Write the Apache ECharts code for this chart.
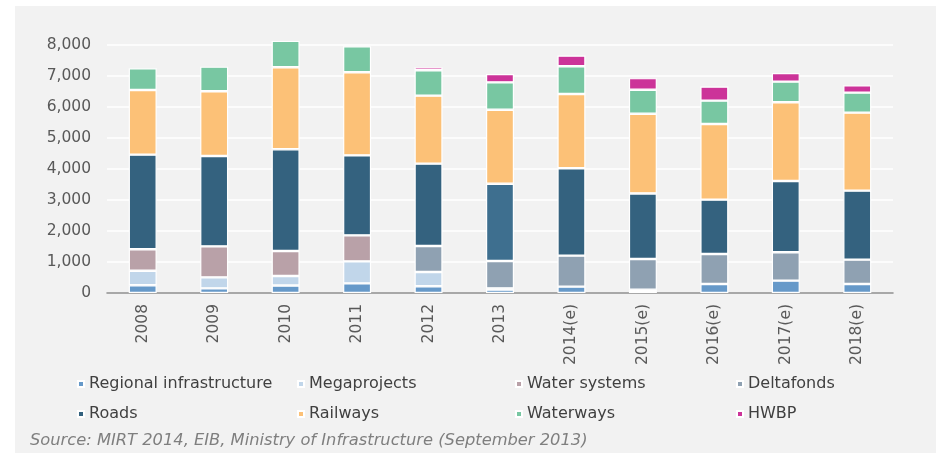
<!DOCTYPE html>
<html>
<head>
<meta charset="utf-8">
<script src="https://cdn.jsdelivr.net/npm/echarts@6/dist/echarts.min.js"></script>
<style>
html,body{margin:0;padding:0;background:#ffffff;}
#panel{position:absolute;left:15px;top:6px;width:921px;height:447px;background:#f2f2f2;}
#chart{position:absolute;left:0;top:0;width:936px;height:453px;}
</style>
</head>
<body>
<div id="panel"></div>
<div id="chart"></div>
<script>
const categories = ['2008','2009','2010','2011','2012','2013','2014(e)','2015(e)','2016(e)','2017(e)','2018(e)'];
const yTicks = [0,1000,2000,3000,4000,5000,6000,7000,8000];
const regional   = [250, 150, 240, 310, 216, 110, 206, 65, 290, 400, 290];
const megaprojects = [470, 355, 310, 710, 462, 40, null, 40, null, null, null];
const waterSystems = [690, 1000, 807, 840, null, null, null, null, null, null, null];
const deltafonds = [null, null, null, null, 838, 880, 1000, 990, 968, 913, 787];
const roads      = [3055, 2914, 3281, 2581, 2658, 2494, 2817, 2116, 1755, 2300, 2226];
const railways   = [2085, 2087, 2645, 2678, 2193, 2387, 2397, 2571, 2439, 2539, 2517];
const waterways  = [700, 796, 849, 839, 817, 884, 893, 775, 755, 668, 645];
const hwbp       = [null, null, null, null, 100, 268, 345, 374, 451, 278, 235];

const seriesDefs = [
  {name:'Regional infrastructure', data: regional, color:'#6699c9'},
  {name:'Megaprojects', data: megaprojects, color:'#c1d6ea'},
  {name:'Water systems', data: waterSystems, color:'#b9a1a8'},
  {name:'Deltafonds', data: deltafonds, color:'#8fa1b2'},
  {name:'Roads', data: roads, color:'#34627f'},
  {name:'Railways', data: railways, color:'#fcc177'},
  {name:'Waterways', data: waterways, color:'#78c7a2'},
  {name:'HWBP', data: hwbp, color:'#cc3399'}
];

const font = 'DejaVu Sans, Verdana, sans-serif';
const chart = echarts.init(document.getElementById('chart'), null, {renderer:'canvas'});

const series = seriesDefs.map(s => ({
  name: s.name,
  type: 'bar',
  stack: 'total',
  barWidth: 28,
  clip: false,
  itemStyle: {color: s.color, borderColor: '#ffffff', borderWidth: 1.2},
  emphasis: {disabled: true},
  data: s.data.map((v, i) => {
    if (s.name === 'Roads' && categories[i] === '2013') {
      return {value: v, itemStyle: {color: '#3e6f8f'}};
    }
    return v;
  })
}));

const legendCol = (names, left) => ({
  orient: 'vertical',
  left: left,
  top: 376,
  padding: 0,
  itemWidth: 6,
  itemHeight: 6,
  itemGap: 14,
  icon: 'rect',
  selectedMode: false,
  textStyle: {fontFamily: font, fontSize: 16, color: '#404040', lineHeight: 16},
  data: names
});

chart.setOption({
  backgroundColor: 'transparent',
  animation: false,
  title: {
    text: 'Source: MIRT 2014, EIB, Ministry of Infrastructure (September 2013)',
    left: 30,
    top: 433,
    padding: 0,
    textStyle: {fontFamily: font, fontSize: 16.3, fontStyle: 'italic', fontWeight: 'normal', color: '#7f7f7f'}
  },
  legend: [
    legendCol(['Regional infrastructure','Roads'], 77),
    legendCol(['Megaprojects','Railways'], 297),
    legendCol(['Water systems','Waterways'], 515),
    legendCol(['Deltafonds','HWBP'], 736)
  ],
  grid: {left: 107, right: 43, top: 45, bottom: 160, containLabel: false},
  xAxis: {
    type: 'category',
    data: categories,
    axisLine: {show: true, lineStyle: {color: '#8c8c8c', width: 1.5}},
    axisTick: {show: false},
    axisLabel: {rotate: 90, margin: 11, fontFamily: font, fontSize: 15.5, color: '#595959'}
  },
  yAxis: {
    type: 'value',
    min: yTicks[0],
    max: yTicks[yTicks.length - 1],
    interval: yTicks[1] - yTicks[0],
    axisLine: {show: false},
    axisTick: {show: false},
    splitLine: {lineStyle: {color: '#ffffff', width: 1.5}},
    axisLabel: {
      margin: 16,
      fontFamily: font, fontSize: 15.5, color: '#595959',
      formatter: v => v.toLocaleString('en-US')
    }
  },
  series: series
});
</script>
</body>
</html>
